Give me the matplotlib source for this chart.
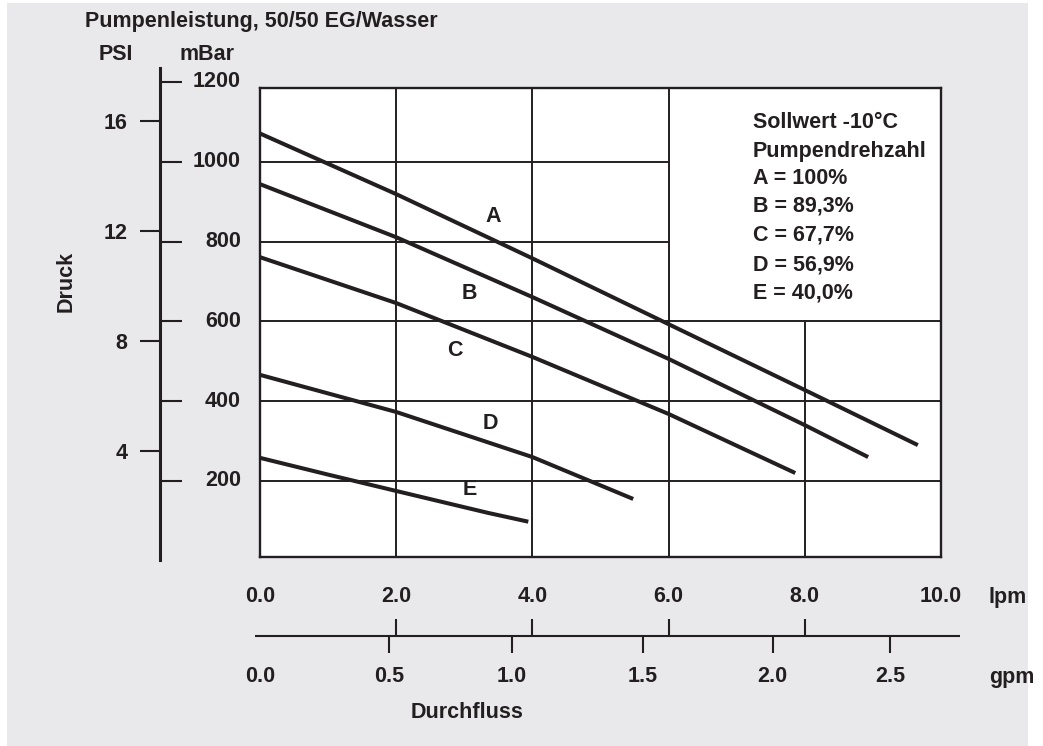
import matplotlib
matplotlib.use('Agg')
import matplotlib.pyplot as plt
import matplotlib.transforms as mtransforms
from matplotlib.patches import Rectangle

# flow in lpm, pressure in mBar
curve_names = ['A', 'B', 'C', 'D', 'E']
flow_a = [0.0, 2.0, 4.0, 6.0, 8.0, 9.66]
druck_a = [1071, 919, 758, 593, 428, 290]
flow_b = [0.0, 2.0, 4.0, 6.0, 8.0, 8.93]
druck_b = [944, 811, 661, 506, 340, 260]
flow_c = [0.0, 2.0, 4.0, 6.0, 7.86]
druck_c = [761, 646, 511, 368, 220]
flow_d = [0.0, 2.0, 4.0, 5.48]
druck_d = [466, 373, 260, 155]
flow_e = [0.0, 1.0, 2.0, 3.35, 3.94]
druck_e = [258, 216, 175, 120, 98]

# label positions for the curves (lpm, mBar)
label_x = [3.42, 3.08, 2.86, 3.38, 3.08]
label_y = [864, 671, 526, 345, 178]

legend_lines = ['Sollwert -10°C', 'Pumpendrehzahl', 'A = 100%', 'B = 89,3%',
                'C = 67,7%', 'D = 56,9%', 'E = 40,0%']

mbar_ticks = [200, 400, 600, 800, 1000, 1200]
psi_ticks = [4, 8, 12, 16]
lpm_ticks = [0, 2, 4, 6, 8, 10]
lpm_labels = ['0.0', '2.0', '4.0', '6.0', '8.0', '10.0']
gpm_labels = ['0.0', '0.5', '1.0', '1.5', '2.0', '2.5']
gpm_pos = [0.0, 1.89, 3.70, 5.62, 7.53, 9.25]  # where gpm ticks sit on the lpm scale

# grid segments (box top-right cell has no inner lines)
grid_h = [200, 400, 600, 800, 1000]
grid_h_end = [10, 10, 10, 6, 6]
grid_v = [2, 4, 6, 8]
grid_v_end = [1185, 1185, 1185, 600]

W, H = 1043, 746
def fx(px):
    return px / W
def fy(py):
    return 1 - py / H

ink = '#231f20'
bg = '#e9e9eb'
FONT = ['Liberation Sans', 'DejaVu Sans']
fs = 15.5
tkw = dict(family=FONT, fontsize=fs, fontweight='bold', color=ink)

fig = plt.figure(figsize=(W / 100, H / 100), dpi=100, facecolor='white')
fig.patches.append(Rectangle((fx(7), 0), fx(1028) - fx(7), fy(3), transform=fig.transFigure,
                             facecolor=bg, edgecolor='none', zorder=-10))

# main plot area
ax = fig.add_axes([fx(260), fy(557), fx(941) - fx(260), fy(88) - fy(557)])
ax.set_facecolor('white')
ax.set_xlim(0, 10)
ax.set_ylim(9.5, 1185)
ax.set_xticks([])
ax.set_yticks([])
for s in ax.spines.values():
    s.set_linewidth(1.7)
    s.set_color(ink)
ax.hlines(grid_h, 0, grid_h_end, color=ink, lw=1.4, zorder=1)
ax.vlines(grid_v, 0, grid_v_end, color=ink, lw=1.4, zorder=1)

for fl, dr in [(flow_a, druck_a), (flow_b, druck_b), (flow_c, druck_c),
               (flow_d, druck_d), (flow_e, druck_e)]:
    ax.plot(fl, dr, color=ink, lw=2.9, solid_capstyle='butt', zorder=3)
for name, lx, ly in zip(curve_names, label_x, label_y):
    ax.text(lx, ly, name, ha='center', va='center', **tkw)

for i, line in enumerate(legend_lines):
    fig.text(fx(753), fy([122, 151, 179, 206, 235, 265, 293][i]), line,
             ha='left', va='center', **tkw)

# pressure scale on the left
sax = fig.add_axes([fx(160), fy(560), fx(40), fy(68) - fy(560)])
sax.patch.set_visible(False)
sax.set_ylim(2, 1235)
sax.set_xticks([])
for k in ['top', 'right', 'bottom']:
    sax.spines[k].set_visible(False)
sax.spines['left'].set_linewidth(2.2)
sax.spines['left'].set_color(ink)
sax.set_yticks(mbar_ticks)
sax.tick_params(axis='y', direction='in', length=15.8, width=1.5, color=ink, labelleft=False)
trans_m = mtransforms.blended_transform_factory(fig.transFigure, sax.transData)
for m in mbar_ticks:
    sax.text(fx(241), m, str(m), transform=trans_m, ha='right', va='center', **tkw)

psi = sax.secondary_yaxis('left', functions=(lambda m: m / 68.948, lambda p: p * 68.948))
psi.spines['left'].set_visible(False)
psi.set_yticks(psi_ticks)
psi.tick_params(axis='y', direction='out', length=14.4, width=1.5, color=ink, pad=9)
for lab in psi.get_yticklabels():
    lab.set_family(FONT)
    lab.set_fontsize(fs)
    lab.set_fontweight('bold')
    lab.set_color(ink)

# flow scales below
trans_x = mtransforms.blended_transform_factory(ax.transData, fig.transFigure)
for v, lab in zip(lpm_ticks, lpm_labels):
    ax.text(v, fy(597), lab, transform=trans_x, ha='center', va='center', **tkw)

fax = fig.add_axes([fx(255), fy(653), fx(960) - fx(255), fy(619) - fy(653)])
fax.axis('off')
fax.set_xlim((255 - 260) / 68.1, (960 - 260) / 68.1)
fax.set_ylim(-1, 1)
fax.axhline(0, color=ink, lw=1.5)
fax.vlines(lpm_ticks[1:-1], 0, 1, color=ink, lw=1.5)
fax.vlines(gpm_pos[1:], -1, 0, color=ink, lw=1.5)
trans_g = mtransforms.blended_transform_factory(fax.transData, fig.transFigure)
for v, lab in zip(gpm_pos, gpm_labels):
    fax.text(v, fy(677), lab, transform=trans_g, ha='center', va='center', **tkw)

fig.text(fx(989), fy(597), 'lpm', ha='left', va='center', **tkw)
fig.text(fx(989), fy(677), 'gpm', ha='left', va='center', **tkw)
fig.text(fx(467), fy(712), 'Durchfluss', ha='center', va='center', **tkw)
fig.text(fx(85), fy(22), 'Pumpenleistung, 50/50 EG/Wasser', ha='left', va='center', **tkw)
fig.text(fx(116), fy(55), 'PSI', ha='center', va='center', **tkw)
fig.text(fx(207), fy(55), 'mBar', ha='center', va='center', **tkw)
fig.text(fx(66), fy(281), 'Druck', ha='center', va='center', rotation=90, **tkw)

fig.savefig('out.png', dpi=100, facecolor=fig.get_facecolor())
